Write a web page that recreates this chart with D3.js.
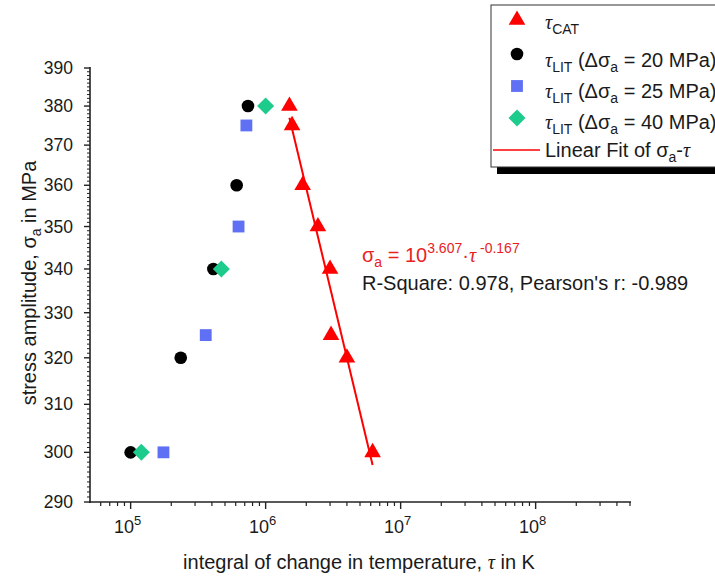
<!DOCTYPE html>
<html>
<head>
<meta charset="utf-8">
<script src="https://cdn.jsdelivr.net/npm/d3@7"></script>
<style>
  body { margin: 0; background: #fff; }
  svg { display: block; }
  text { font-family: "Liberation Sans", Arial, sans-serif; fill: #1a1a1a; }
  .tau { font-family: "Liberation Serif", "Times New Roman", serif; font-style: italic; }
</style>
</head>
<body>
<svg></svg>
<script>
// tau_CAT (red triangles)
var catTau = [1.5e6, 1.57e6, 1.88e6, 2.44e6, 3.0e6, 3.05e6, 4.0e6, 6.2e6];
var catSigma = [380, 375, 360, 350, 340, 325, 320, 300];
// tau_LIT, delta sigma = 20 MPa (black circles)
var lit20Tau = [1.0e5, 2.35e5, 4.1e5, 6.1e5, 7.4e5];
var lit20Sigma = [300, 320, 340, 360, 380];
// tau_LIT, delta sigma = 25 MPa (blue squares)
var lit25Tau = [1.75e5, 3.6e5, 6.3e5, 7.2e5];
var lit25Sigma = [300, 325, 350, 375];
// tau_LIT, delta sigma = 40 MPa (green diamonds)
var lit40Tau = [1.2e5, 4.7e5, 1.0e6];
var lit40Sigma = [300, 340, 380];
// linear fit (log-log), end points
var fitTau = [1.5e6, 6.2e6];
var fitSigma = [377.0, 297.4];

var xTicks = [1e5, 1e6, 1e7, 1e8];
var yTicks = [290, 300, 310, 320, 330, 340, 350, 360, 370, 380, 390];

var width = 715, height = 579;
var svg = d3.select("svg").attr("width", width).attr("height", height);

var x = d3.scaleLog().domain([5e4, 5e8]).range([90, 630]);
var y = d3.scaleLog().domain([290, 390]).range([502, 68]);

var red = "#ff0000", blue = "#5f70f5", green = "#1dcb8c";

// axes
var xAxis = svg.append("g").attr("transform", "translate(0,502)");
xAxis.append("line").attr("x1", 89).attr("x2", 631).attr("stroke", "#222").attr("stroke-width", 1.6);

var minorX = [];
for (var e = 4; e <= 8; e++) {
    for (var m = 2; m <= 9; m++) {
        var v = m * Math.pow(10, e);
        if (v > 5e4 && v <= 5e8) minorX.push(v);
    }
}
xAxis.selectAll(".mx").data(minorX).enter().append("line")
    .attr("x1", d => x(d)).attr("x2", d => x(d))
    .attr("y1", 0).attr("y2", 4).attr("stroke", "#222").attr("stroke-width", 1.2);
xAxis.selectAll(".Mx").data(xTicks).enter().append("line")
    .attr("x1", d => x(d)).attr("x2", d => x(d))
    .attr("y1", 0).attr("y2", 7).attr("stroke", "#222").attr("stroke-width", 1.4);
var xl = xAxis.selectAll(".xl").data(xTicks).enter().append("text")
    .attr("x", d => x(d) - 3).attr("y", 31)
    .attr("text-anchor", "middle").style("font-size", "18px");
xl.append("tspan").text("10");
xl.append("tspan").attr("dy", -8).style("font-size", "13px").text(d => Math.round(Math.log10(d)));

var yAxis = svg.append("g").attr("transform", "translate(90,0)");
yAxis.append("line").attr("y1", 67).attr("y2", 503).attr("stroke", "#222").attr("stroke-width", 1.6);
var minorY = d3.range(291, 390).filter(d => d % 10 !== 0);
yAxis.selectAll(".my").data(minorY).enter().append("line")
    .attr("y1", d => y(d)).attr("y2", d => y(d))
    .attr("x1", 0).attr("x2", -3).attr("stroke", "#222").attr("stroke-width", 1);
yAxis.selectAll(".My").data(yTicks).enter().append("line")
    .attr("y1", d => y(d)).attr("y2", d => y(d))
    .attr("x1", 0).attr("x2", -6).attr("stroke", "#222").attr("stroke-width", 1.4);
yAxis.selectAll(".yl").data(yTicks).enter().append("text")
    .attr("x", -17).attr("y", d => y(d) + 6)
    .attr("text-anchor", "end").style("font-size", "17.5px")
    .text(d => d);

// axis titles
var xt = svg.append("text").attr("x", 359).attr("y", 569).attr("text-anchor", "middle").style("font-size", "20px");
xt.append("tspan").text("integral of change in temperature, ");
xt.append("tspan").attr("class", "tau").text("\u03c4");
xt.append("tspan").text(" in K");

var yt = svg.append("text").attr("transform", "translate(36,283) rotate(-90)")
    .attr("text-anchor", "middle").style("font-size", "20px");
yt.append("tspan").text("stress amplitude, \u03c3");
yt.append("tspan").attr("dy", 5).style("font-size", "14px").text("a");
yt.append("tspan").attr("dy", -5).text(" in MPa");

// fit line
var line = d3.line().x(d => x(d[0])).y(d => y(d[1]));
svg.append("path").datum(d3.zip(fitTau, fitSigma))
    .attr("d", line).attr("fill", "none").attr("stroke", red).attr("stroke-width", 2);

// markers
var triSym = d3.symbol().type(d3.symbolTriangle).size(120);
var cirSym = d3.symbol().type(d3.symbolCircle).size(125);
var sqSym = d3.symbol().type(d3.symbolSquare).size(140);
var diaSym = d3.symbol().type(d3.symbolSquare).size(145);

function drawSeries(taus, sigmas, sym, color, rot) {
    svg.append("g").selectAll("path").data(d3.zip(taus, sigmas)).enter().append("path")
        .attr("d", sym)
        .attr("transform", d => "translate(" + x(d[0]) + "," + y(d[1]) + ")" + (rot ? " rotate(45)" : ""))
        .attr("fill", color);
}
drawSeries(lit25Tau, lit25Sigma, sqSym, blue, false);
drawSeries(lit20Tau, lit20Sigma, cirSym, "#000", false);
drawSeries(lit40Tau, lit40Sigma, diaSym, green, true);
drawSeries(catTau, catSigma, triSym, red, false);

// fit annotation
var eqColor = "#e8231f";
var eq = svg.append("text").attr("x", 362).attr("y", 262).style("font-size", "20px");
eq.append("tspan").style("fill", eqColor).text("\u03c3");
eq.append("tspan").attr("dy", 5).style("font-size", "14px").style("fill", eqColor).text("a");
eq.append("tspan").attr("dy", -5).style("fill", eqColor).text(" = 10");
eq.append("tspan").attr("dy", -9).style("font-size", "14px").style("fill", eqColor).text("3.607");
eq.append("tspan").attr("dy", 9).style("fill", eqColor).text("\u00b7");
eq.append("tspan").attr("class", "tau").style("fill", eqColor).text("\u03c4");
eq.append("tspan").attr("dy", -9).style("font-size", "14px").style("fill", eqColor).text(" -0.167");
svg.append("text").attr("x", 362).attr("y", 290).style("font-size", "20px")
    .text("R-Square: 0.978, Pearson's r: -0.989");

// legend
var lg = svg.append("g");
lg.append("rect").attr("x", 497).attr("y", 167).attr("width", 230).attr("height", 7).attr("fill", "#000");
lg.append("rect").attr("x", 491).attr("y", 5).attr("width", 240).attr("height", 162)
    .attr("fill", "#fff").attr("stroke", "#333").attr("stroke-width", 1);

var legendRows = [
    { sym: triSym, color: red, rot: false, y: 20, base: 29, sub: "CAT", rest: "" },
    { sym: cirSym, color: "#000", rot: false, y: 54, base: 67, sub: "LIT", rest: "20" },
    { sym: sqSym, color: blue, rot: false, y: 86, base: 98, sub: "LIT", rest: "25" },
    { sym: diaSym, color: green, rot: true, y: 118, base: 129, sub: "LIT", rest: "40" }
];
legendRows.forEach(function(r) {
    lg.append("path").attr("d", r.sym).attr("fill", r.color)
        .attr("transform", "translate(517," + r.y + ")" + (r.rot ? " rotate(45)" : ""));
    var t = lg.append("text").attr("x", 545).attr("y", r.base).style("font-size", "20px");
    t.append("tspan").attr("class", "tau").text("\u03c4");
    t.append("tspan").attr("dy", 5).style("font-size", "14px").text(r.sub);
    if (r.rest) {
        t.append("tspan").attr("dy", -5).text(" (\u0394\u03c3");
        t.append("tspan").attr("dy", 5).style("font-size", "14px").text("a");
        t.append("tspan").attr("dy", -5).text(" = " + r.rest + " MPa)");
    }
});
lg.append("line").attr("x1", 493).attr("x2", 540).attr("y1", 150).attr("y2", 150)
    .attr("stroke", red).attr("stroke-width", 1.5);
var lt = lg.append("text").attr("x", 545).attr("y", 157).style("font-size", "20px");
lt.append("tspan").text("Linear Fit of \u03c3");
lt.append("tspan").attr("dy", 5).style("font-size", "14px").text("a");
lt.append("tspan").attr("dy", -5).text("-");
lt.append("tspan").attr("class", "tau").text("\u03c4");
</script>
</body>
</html>
